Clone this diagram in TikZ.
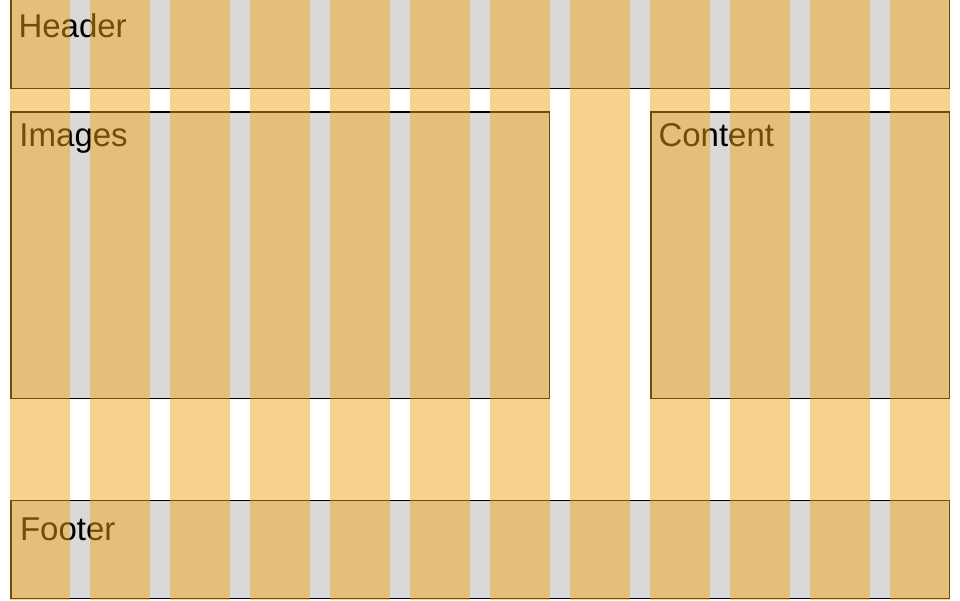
\documentclass[tikz,border=0pt]{standalone}
\usepackage{fontspec}
\setmainfont{Liberation Sans}
\definecolor{boxgray}{RGB}{217,217,217}
\definecolor{colorange}{RGB}{242,162,19}
\begin{document}
\begin{tikzpicture}[x=1pt,y=-1pt,
  region/.style={fill=boxgray,draw=black,line width=1.5pt},
  label/.style={anchor=base west,inner sep=0pt,font=\fontsize{33}{36}\selectfont,text=black},
  gridcol/.style={fill=colorange,fill opacity=0.4737}]
\useasboundingbox (0,0) rectangle (960,600);
\clip (0,0) rectangle (960,600);
\fill[white] (0,0) rectangle (960,600);
% regions
\draw[region] (10.75,-10) rectangle (949.25,88.7);
\draw[region] (10.75,112.2) rectangle (549.25,398.7);
\draw[region] (650.75,112.2) rectangle (949.25,398.7);
\draw[region] (10.75,500.6) rectangle (949.25,598.25);
% labels
\node[label] (header) at (18.3,37.3) {Header};
\node[label] (images) at (19.3,146.5) {Images};
\node[label] (content) at (658.3,146.5) {Content};
\node[label] (footer) at (19.8,540.5) {Footer};
% grid columns
\foreach \i in {0,...,11} {
  \fill[gridcol] ({10+80*\i},0) rectangle ({70+80*\i},600);
}
\end{tikzpicture}
\end{document}
